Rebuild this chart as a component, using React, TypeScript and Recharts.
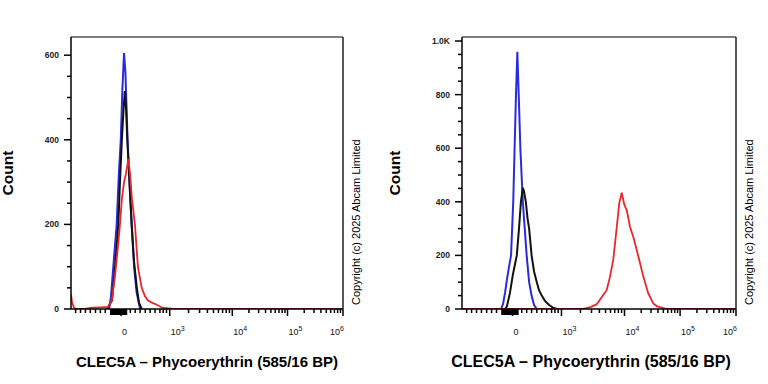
import React from 'react';
import { LineChart, Line, XAxis, YAxis, ReferenceLine, Label } from 'recharts';

const FONT = 'Arial, "Liberation Sans", sans-serif';
const BLUE = '#2b2bdc';
const BLACK = '#111111';
const RED = '#e8262b';

// x = display channel along the biexponential axis (0..1000 across the plot), y = count
const leftBlueX = [129, 140, 147, 158, 168, 176, 183, 189, 195, 200, 208, 215, 223, 232, 241, 254];
const leftBlueY = [0, 0, 30, 120, 200, 320, 400, 520, 605, 560, 400, 300, 200, 100, 40, 0];
const leftBlackX = [132, 151, 162, 174, 180, 187, 193, 198, 202, 207, 215, 223, 232, 242, 250, 260];
const leftBlackY = [0, 20, 100, 200, 300, 400, 470, 515, 480, 400, 300, 200, 110, 50, 15, 0];
const leftRedX = [0, 4, 11, 18, 51, 77, 107, 136, 150, 162, 173, 180, 187, 195, 202, 211, 217, 224, 235, 246, 260, 272, 283, 298, 315, 335, 375, 1000];
const leftRedY = [35, 15, 3, 0, 0, 3, 4, 5, 20, 80, 150, 200, 260, 300, 320, 355, 320, 260, 200, 100, 50, 30, 20, 15, 10, 3, 0, 0];

const rightBlueX = [143, 150, 157, 164, 172, 179, 183, 187, 192, 197, 202, 207, 213, 222, 229, 236, 245, 254, 263, 273];
const rightBlueY = [0, 20, 60, 110, 160, 200, 300, 400, 600, 800, 960, 800, 600, 400, 300, 200, 100, 50, 15, 0];
const rightBlackX = [157, 164, 175, 186, 193, 200, 208, 215, 222, 226, 233, 239, 245, 254, 263, 273, 281, 291, 303, 318, 332, 347];
const rightBlackY = [0, 10, 60, 130, 165, 200, 300, 400, 452, 440, 400, 340, 300, 200, 140, 100, 70, 50, 30, 15, 5, 0];
const rightRedX = [0, 440, 455, 471, 492, 507, 528, 540, 552, 565, 574, 583, 587, 591, 596, 601, 607, 613, 625, 644, 662, 680, 698, 712, 729, 747, 1000];
const rightRedY = [0, 0, 3, 8, 18, 40, 70, 120, 183, 307, 395, 434, 415, 395, 380, 370, 340, 307, 270, 195, 120, 58, 21, 10, 5, 0, 0];

// x axis: decade positions in display channels and their labels
const majorX = [184, 363, 593, 796, 1000];
const majorXLabels = ['0', '3', '4', '5', '6'];
const negTicks = [17, 35, 53, 71, 90, 108, 126];
const linTicks = [218, 236, 254, 273, 291, 309, 327, 339, 351];

const leftYTicks = [0, 200, 400, 600];
const leftYLabels = ['0', '200', '400', '600'];
const rightYTicks = [0, 200, 400, 600, 800, 1000];
const rightYLabels = ['0', '200', '400', '600', '800', '1.0K'];

const xTitle = 'CLEC5A \u2013 Phycoerythrin (585/16 BP)';
const copyright = 'Copyright (c) 2025 Abcam Limited';

const zip = (xs: number[], ys: number[]) => xs.map((x, i) => ({ x, y: ys[i] }));

// minor ticks: dense block around zero, then log minor ticks per decade
const blockTicks: number[] = [];
for (let c = 146; c <= 204; c += 2) blockTicks.push(c);
const logTicks: number[] = [];
for (let d = 1; d < majorX.length - 1; d++) {
  for (let k = 2; k <= 9; k++) logTicks.push(majorX[d] + (majorX[d + 1] - majorX[d]) * Math.log10(k));
}
const allXTicks = Array.from(new Set([...negTicks, ...blockTicks, ...linTicks, ...logTicks, ...majorX])).sort((a, b) => a - b);

const XTick = (props: any) => {
  const x = Number(props.x);
  const y = Number(props.y);
  const v = props.payload.value;
  const mi = majorX.indexOf(v);
  const last = majorX.length - 1;
  const isBlock = mi < 0 && v >= 146 && v <= 204;
  const len = mi >= 0 ? 7 : isBlock ? 6 : 4;
  return (
    <g>
      <path d={`M${x},${y}L${x},${y + len}`} stroke="#000" strokeWidth={1.5} fill="none" />
      {mi === 0 && (
        <text x={x + 1} y={y + 26} fontSize={9} fontFamily={FONT} fill="#111">0</text>
      )}
      {mi > 0 && (
        <text x={x + 1} y={y + 26} textAnchor={mi === last ? 'end' : 'start'} fontSize={9} fontFamily={FONT} fill="#111">
          10<tspan dy={-4} fontSize={7}>{majorXLabels[mi]}</tspan>
        </text>
      )}
    </g>
  );
};

const makeYTick = (major: number[], labels: string[]) => (props: any) => {
  const x = Number(props.x);
  const y = Number(props.y);
  const i = major.indexOf(props.payload.value);
  return (
    <g>
      <path d={`M${x},${y}L${x - (i >= 0 ? 7 : 4)},${y}`} stroke="#000" strokeWidth={1.5} fill="none" />
      {i >= 0 && (
        <text x={x - 12} y={y + 3} textAnchor="end" fontSize={8.5} fontWeight="bold" fontFamily={FONT} fill="#222">
          {labels[i]}
        </text>
      )}
    </g>
  );
};

interface PanelProps {
  left: number;
  marginLeft: number;
  marginRight: number;
  yMax: number;
  yMajor: number[];
  yLabels: string[];
  blue: { x: number; y: number }[];
  black: { x: number; y: number }[];
  red: { x: number; y: number }[];
  countX: number;
  titleX: number;
  titleSize: number;
  copyX: number;
}

const Panel = (p: PanelProps) => {
  const yTicks: number[] = [];
  for (let v = 0; v <= p.yMax; v += 50) yTicks.push(v);
  return (
    <LineChart
      width={384}
      height={384}
      margin={{ top: 37, right: p.marginRight, bottom: 45, left: p.marginLeft }}
      style={{ position: 'absolute', left: p.left, top: 0 }}
    >
      <XAxis
        dataKey="x"
        type="number"
        domain={[0, 1000]}
        allowDataOverflow
        ticks={allXTicks}
        interval={0}
        tickSize={0}
        tickMargin={0}
        tickLine={false}
        tick={XTick}
        height={30}
        axisLine={{ stroke: '#000', strokeWidth: 1.5 }}
      >
        <Label
          content={() => (
            <text x={p.titleX} y={367} textAnchor="middle" fontSize={p.titleSize} fontWeight="bold" fontFamily={FONT} fill="#000">
              {xTitle}
            </text>
          )}
        />
      </XAxis>
      <YAxis
        type="number"
        domain={[0, p.yMax]}
        allowDataOverflow
        ticks={yTicks}
        interval={0}
        tickSize={0}
        tickMargin={0}
        tickLine={false}
        tick={makeYTick(p.yMajor, p.yLabels)}
        width={60}
        axisLine={{ stroke: '#000', strokeWidth: 1.5 }}
      >
        <Label
          content={() => (
            <text x={p.countX} y={173} transform={`rotate(-90 ${p.countX} 173)`} textAnchor="middle" fontSize={15.5} fontWeight="bold" fontFamily={FONT} fill="#000">
              Count
            </text>
          )}
        />
      </YAxis>
      <ReferenceLine y={p.yMax} stroke="#555" strokeWidth={1.5} />
      <ReferenceLine x={1000} stroke="#222" strokeWidth={1.5}>
        <Label
          content={() => (
            <text x={p.copyX} y={305} transform={`rotate(-90 ${p.copyX} 305)`} textAnchor="start" fontSize={11} fontFamily={FONT} fill="#000">
              {copyright}
            </text>
          )}
        />
      </ReferenceLine>
      <Line data={p.blue} dataKey="y" type="linear" stroke={BLUE} strokeWidth={2} dot={false} isAnimationActive={false} />
      <Line data={p.black} dataKey="y" type="linear" stroke={BLACK} strokeWidth={2} dot={false} isAnimationActive={false} />
      <Line data={p.red} dataKey="y" type="linear" stroke={RED} strokeWidth={1.8} dot={false} isAnimationActive={false} />
    </LineChart>
  );
};

export default function App() {
  return (
    <div style={{ position: 'absolute', left: 0, top: 0, width: 768, height: 384, background: '#fff' }}>
      <Panel
        left={0}
        marginLeft={11}
        marginRight={41}
        yMax={643}
        yMajor={leftYTicks}
        yLabels={leftYLabels}
        blue={zip(leftBlueX, leftBlueY)}
        black={zip(leftBlackX, leftBlackY)}
        red={zip(leftRedX, leftRedY)}
        countX={13}
        titleX={207}
        titleSize={15}
        copyX={360}
      />
      <Panel
        left={384}
        marginLeft={18}
        marginRight={32}
        yMax={1015}
        yMajor={rightYTicks}
        yLabels={rightYLabels}
        blue={zip(rightBlueX, rightBlueY)}
        black={zip(rightBlackX, rightBlackY)}
        red={zip(rightRedX, rightRedY)}
        countX={16}
        titleX={207}
        titleSize={16}
        copyX={369}
      />
    </div>
  );
}
